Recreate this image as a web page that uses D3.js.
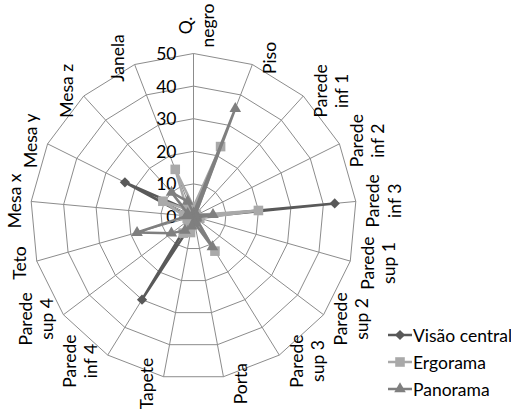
<!DOCTYPE html>
<html>
<head>
<meta charset="utf-8">
<script src="https://cdn.jsdelivr.net/npm/d3@7"></script>
<style>
  html, body { margin: 0; padding: 0; background: #ffffff; }
  svg { display: block; }
  text { font-family: Lato, "Open Sans", sans-serif; fill: #000; }
</style>
</head>
<body>
<svg id="chart" width="511" height="414"></svg>
<script>
// Categories around the radar, clockwise from the top
const categories = ["Q. negro", "Piso", "Parede inf 1", "Parede inf 2", "Parede inf 3",
  "Parede sup 1", "Parede sup 2", "Parede sup 3", "Porta", "Tapete", "Parede inf 4",
  "Parede sup 4", "Teto", "Mesa x", "Mesa y", "Mesa z", "Janela"];

// Series values, one per category
const visaoCentral = [2, 1, 0, 0, 43.5, 1, 0, 1, 1, 2, 30, 1, 1, 2, 23.5, 3, 2];
const ergorama     = [3, 23, 1, 1, 20, 2, 1, 12.5, 2, 5, 6, 2, 2, 3, 10.5, 3, 15.5];
const panorama     = [1, 35.5, 1, 1, 6, 1, 1, 11, 2, 3, 5, 8.5, 18, 2, 2, 10, 5];

const seriesNames = ["Visão central", "Ergorama", "Panorama"];
const tickValues = [0, 10, 20, 30, 40, 50];

const svg = d3.select("#chart");
const cx = 193.5, cy = 216.5, R = 163;
const n = categories.length;

const r = d3.scaleLinear().domain([0, 50]).range([0, R]);
const angle = d3.scaleLinear().domain([0, n]).range([0, 2 * Math.PI]);

const series = [
  { name: seriesNames[0], values: visaoCentral, color: "#595959", marker: "diamond" },
  { name: seriesNames[1], values: ergorama, color: "#a9a9a9", marker: "square" },
  { name: seriesNames[2], values: panorama, color: "#7f7f7f", marker: "triangle" }
];

const plot = svg.append("g").attr("transform", `translate(${cx},${cy})`);

// Grid: ring polygons and spokes
const ringLine = d3.lineRadial()
  .angle((d, i) => angle(i))
  .radius(d => r(d))
  .curve(d3.curveLinearClosed);

tickValues.filter(t => t > 0).forEach(t => {
  plot.append("path")
    .attr("d", ringLine(categories.map(() => t)))
    .attr("fill", "none")
    .attr("stroke", "#8c8c8c")
    .attr("stroke-width", 1);
});

categories.forEach((c, i) => {
  const a = angle(i);
  plot.append("line")
    .attr("x1", 0).attr("y1", 0)
    .attr("x2", r(50) * Math.sin(a)).attr("y2", -r(50) * Math.cos(a))
    .attr("stroke", "#8c8c8c")
    .attr("stroke-width", 1);
});

// Tick labels along the top spoke
plot.selectAll("text.tick")
  .data(tickValues)
  .join("text")
  .attr("class", "tick")
  .attr("x", -17)
  .attr("y", d => -r(d))
  .attr("text-anchor", "end")
  .attr("dominant-baseline", "central")
  .attr("font-size", 17.5)
  .text(d => d);

// Category labels, rotated to read upward
const lineH = 21.5;
categories.forEach((name, i) => {
  const a = angle(i);
  const ux = Math.sin(a), uy = -Math.cos(a);
  const vx = cx + R * ux, vy = cy + R * uy;
  const sp = name.indexOf(" ");
  const lines = (name.length > 6 && sp > 0) ? [name.slice(0, sp), name.slice(sp + 1)] : [name];
  const g = svg.append("g");
  const texts = lines.map((t, k) => g.append("text")
    .attr("x", 0)
    .attr("y", (k - (lines.length - 1) / 2) * lineH)
    .attr("text-anchor", "middle")
    .attr("dominant-baseline", "central")
    .attr("font-size", 17.5)
    .text(t));
  const len = d3.max(texts, t => t.node().getComputedTextLength());
  const w = lines.length * lineH;
  let px, py;
  if (Math.abs(ux) < 0.05) {
    px = vx + 3;
    py = vy - 6 - len / 2;
  } else {
    px = vx + Math.sign(ux) * (w / 2 + 6);
    py = vy + uy * 7;
  }
  g.attr("transform", `translate(${px},${py}) rotate(-90)`);
});

// Marker shapes
function markerPath(type) {
  if (type === "diamond") return d3.symbol().type(d3.symbolSquare).size(52)();
  if (type === "square") return d3.symbol().type(d3.symbolSquare).size(92)();
  return d3.symbol().type(d3.symbolTriangle).size(58)();
}

// Series lines and markers
series.forEach(s => {
  plot.append("path")
    .attr("d", ringLine(s.values))
    .attr("fill", "none")
    .attr("stroke", s.color)
    .attr("stroke-width", 2.5)
    .attr("stroke-linejoin", "round");
  plot.selectAll(null)
    .data(s.values)
    .join("path")
    .attr("transform", (d, i) => {
      const a = angle(i);
      const rot = s.marker === "diamond" ? " rotate(45)" : "";
      return `translate(${r(d) * Math.sin(a)},${-r(d) * Math.cos(a)})${rot}`;
    })
    .attr("d", markerPath(s.marker))
    .attr("fill", s.color);
});

// Legend
const legend = svg.append("g").attr("transform", "translate(388,335)");
series.forEach((s, k) => {
  const g = legend.append("g").attr("transform", `translate(0,${k * 27})`);
  g.append("line").attr("x1", 0).attr("x2", 24).attr("y1", 0).attr("y2", 0)
    .attr("stroke", s.color).attr("stroke-width", 2.5);
  g.append("path")
    .attr("transform", `translate(12,0)${s.marker === "diamond" ? " rotate(45)" : ""}`)
    .attr("d", markerPath(s.marker))
    .attr("fill", s.color);
  g.append("text")
    .attr("x", 25).attr("y", 0)
    .attr("dominant-baseline", "central")
    .attr("font-size", 17.5)
    .text(s.name);
});
</script>
</body>
</html>
